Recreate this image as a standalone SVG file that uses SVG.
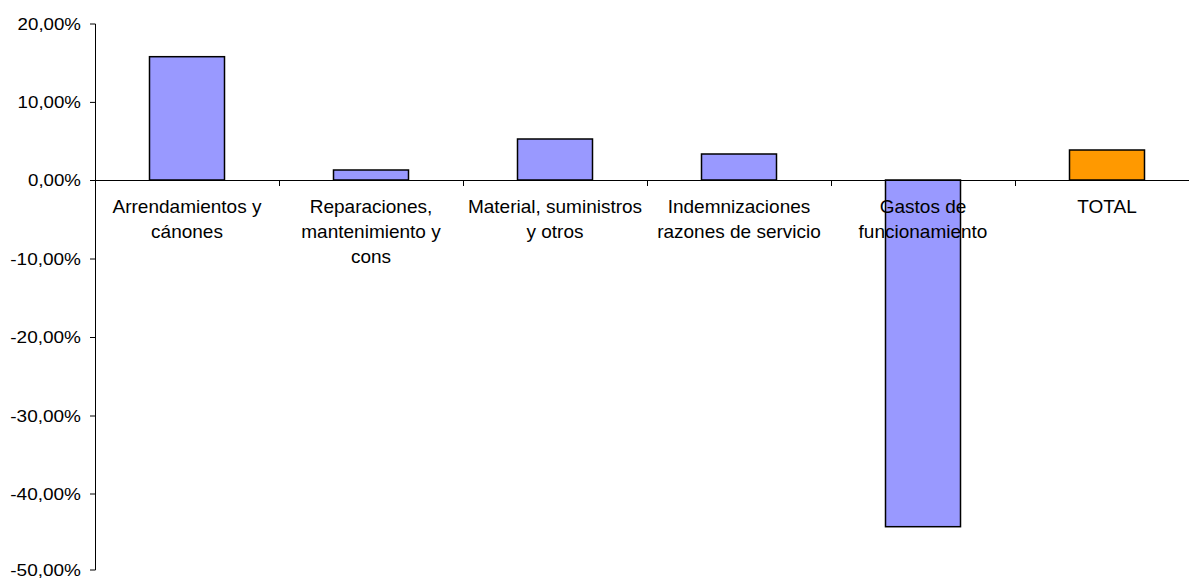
<svg xmlns="http://www.w3.org/2000/svg" width="1189" height="579" viewBox="0 0 1189 579">
<style>
.bar{fill:#9999FF;stroke:#000;stroke-width:1.5}
.tot{fill:#FF9900;stroke:#000;stroke-width:1.5}
.ax{stroke:#000;stroke-width:1;fill:none}
.yl{font-family:"Liberation Sans",Arial,sans-serif;font-size:16.5px;fill:#000;text-anchor:end}
.cl{font-family:"Liberation Sans",Arial,sans-serif;font-size:19px;fill:#000;text-anchor:middle}
</style>
<rect width="1189" height="579" fill="#fff"/>
<g id="bars">
<g id="bar1"><rect class="bar" x="149.5" y="56.7" width="75" height="123.3"/></g>
<g id="bar2"><rect class="bar" x="333.5" y="170" width="75" height="10"/></g>
<g id="bar3"><rect class="bar" x="517.5" y="139" width="75" height="41"/></g>
<g id="bar4"><rect class="bar" x="701.5" y="154" width="75" height="26"/></g>
<g id="bar5"><rect class="bar" x="885.5" y="180" width="75" height="346.7"/></g>
<g id="bar6"><rect class="tot" x="1069.5" y="150" width="75" height="30"/></g>
</g>
<g id="axes">
<path class="ax" d="M95.5 24V570M90 24H95.5M90 102.4H95.5M90 180.5H95.5M90 259H95.5M90 337.5H95.5M90 416H95.5M90 494H95.5M90 570H95.5"/>
<path class="ax" d="M95 180.5H1189M279.5 180.5V186M463.5 180.5V186M647.5 180.5V186M831.5 180.5V186M1015.5 180.5V186"/>
</g>
<g id="ylabels">
<text class="yl" x="81" y="29.5" textLength="63.4" lengthAdjust="spacingAndGlyphs">20,00%</text>
<text class="yl" x="81" y="108" textLength="63.4" lengthAdjust="spacingAndGlyphs">10,00%</text>
<text class="yl" x="81" y="186" textLength="53" lengthAdjust="spacingAndGlyphs">0,00%</text>
<text class="yl" x="81" y="264.5" textLength="70.7" lengthAdjust="spacingAndGlyphs">-10,00%</text>
<text class="yl" x="81" y="343" textLength="70.7" lengthAdjust="spacingAndGlyphs">-20,00%</text>
<text class="yl" x="81" y="421.5" textLength="70.7" lengthAdjust="spacingAndGlyphs">-30,00%</text>
<text class="yl" x="81" y="500" textLength="70.7" lengthAdjust="spacingAndGlyphs">-40,00%</text>
<text class="yl" x="81" y="576" textLength="70.7" lengthAdjust="spacingAndGlyphs">-50,00%</text>
</g>
<g id="xlabels">
<text class="cl" x="187" y="213">Arrendamientos y</text>
<text class="cl" x="187" y="238">cánones</text>
<text class="cl" x="371" y="213">Reparaciones,</text>
<text class="cl" x="371" y="238">mantenimiento y</text>
<text class="cl" x="371" y="263">cons</text>
<text class="cl" x="555" y="213">Material, suministros</text>
<text class="cl" x="555" y="238">y otros</text>
<text class="cl" x="739" y="213">Indemnizaciones</text>
<text class="cl" x="739" y="238">razones de servicio</text>
<text class="cl" x="923" y="213">Gastos de</text>
<text class="cl" x="923" y="238">funcionamiento</text>
<text class="cl" x="1107" y="213">TOTAL</text>
</g>
</svg>
